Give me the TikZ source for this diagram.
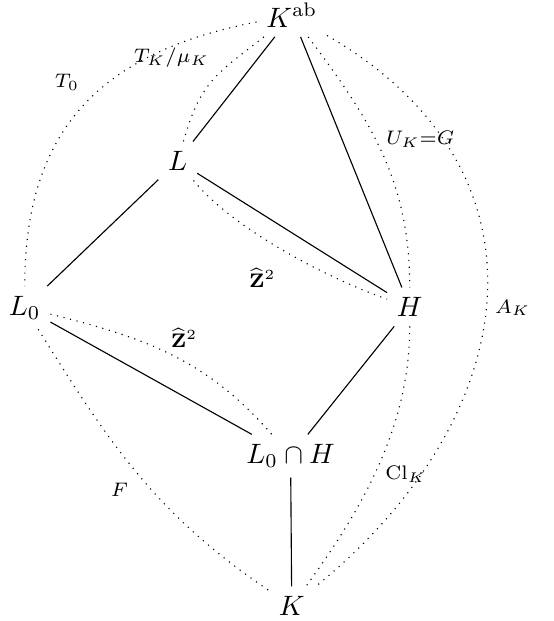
\documentclass[tikz,border=0pt]{standalone}
\usepackage{amsmath,amssymb}
\tikzset{
  field/.style={
    inner sep=3.33pt, font=\normalsize
  },
  incl/.style={line width=0.4pt},
  quot/.style={dotted, line width=0.4pt},
  glabel/.style={font=\scriptsize, inner sep=1pt}
}

\begin{document}
\begin{tikzpicture}

  \useasboundingbox (0,0) rectangle (6.94,-7.79);

  % Fields
  \node[field] (Kab)  at (3.66,-0.19) {$K^{\mathrm{ab}}$};
  \node[field] (L)    at (2.23,-2.02) {$L$};
  \node[field] (L0)   at (0.31,-3.86) {$L_0$};
  \node[field] (H)    at (5.14,-3.85) {$H$};
  \node[field] (L0H)  at (3.645,-5.72) {$L_0\cap H$};
  \node[field] (K)    at (3.66,-7.60) {$K$};

  % Inclusions
  \draw[incl] (Kab) -- (L);
  \draw[incl] (Kab) -- (H);
  \draw[incl] (L) -- (L0);
  \draw[incl] (L) -- (H);
  \draw[incl] (L0) -- (L0H);
  \draw[incl] (H) -- (L0H);
  \draw[incl] (L0H) -- (K);

  % Galois groups (dotted)
  \draw[quot] (Kab) to[out=191, in=90, looseness=1.15] (L0);
  \draw[quot] (Kab) to[out=218, in=74, looseness=1.2] (L);
  \draw[quot] (Kab) to[out=-53, in=90] (H);
  \draw[quot] (Kab) to[out=-30, in=39, looseness=1.25] (K);
  \draw[quot] (H) to[out=270, in=54, looseness=0.9] (K);
  \draw[quot] (L0) to[out=-58, in=146] (K);
  \draw[quot] (L) to[out=-51, in=161, looseness=0.7] (H);
  \draw[quot] (L0) to[out=-14, in=131] (L0H);

  % Labels
  \node[glabel] (lT0)  at (0.84,-1.03) {$T_0$};
  \node[glabel] (lTK)  at (2.15,-0.72) {$T_K/\mu_K$};
  \node[glabel] (lUK)  at (5.27,-1.75) {$U_K{=}G$};
  \node[glabel] (lAK)  at (6.43,-3.86) {$A_K$};
  \node[glabel] (lZu)  at (3.29,-3.49) {$\widehat{\mathbf{Z}}^2$};
  \node[glabel] (lZl)  at (2.31,-4.24) {$\widehat{\mathbf{Z}}^2$};
  \node[glabel] (lF)   at (1.50,-6.15) {$F$};
  \node[glabel] (lCl)  at (5.09,-5.95) {$\mathrm{Cl}_K$};

\end{tikzpicture}
\end{document}
